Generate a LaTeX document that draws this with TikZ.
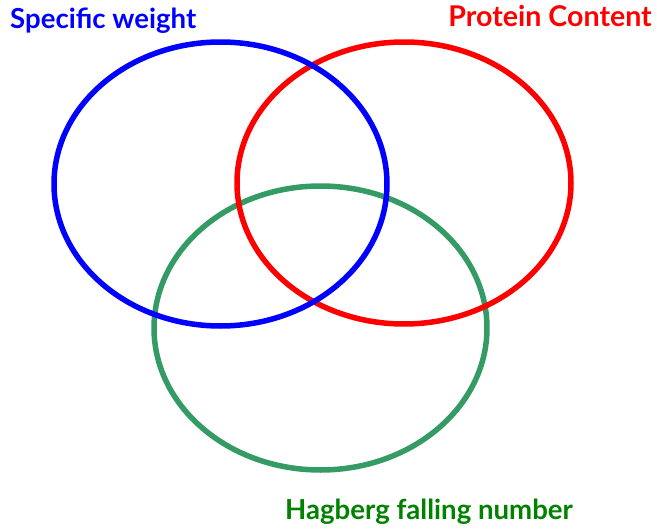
\documentclass[tikz,border=0pt]{standalone}
\usepackage{fontspec}
\setmainfont{Lato}
\definecolor{vgreen}{RGB}{52,155,100}
\definecolor{tgreen}{RGB}{0,130,0}
\tikzset{
  ring/.style={line width=5.5pt},
  lbl/.style={inner sep=0pt}
}
\begin{document}
\begin{tikzpicture}[x=1pt,y=-1pt]
\useasboundingbox (0,0) rectangle (657,530);
\draw[ring, vgreen] (320.5,328) ellipse [x radius=166.5, y radius=142];
\draw[ring, red] (404,183) ellipse [x radius=167, y radius=141];
\draw[ring, blue] (220.5,184) ellipse [x radius=166.5, y radius=142];
\node[lbl, text=blue, anchor=base west, font=\bfseries\fontsize{27.6}{30}\selectfont] (sw) at (10,28) {Specific weight};
\node[lbl, text=red, anchor=base east, font=\bfseries\fontsize{28.6}{30}\selectfont] (pc) at (652,27) {Protein Content};
\node[lbl, text=tgreen, anchor=base west, font=\bfseries\fontsize{27.6}{30}\selectfont] (hf) at (285,519) {Hagberg falling number};
\end{tikzpicture}
\end{document}
